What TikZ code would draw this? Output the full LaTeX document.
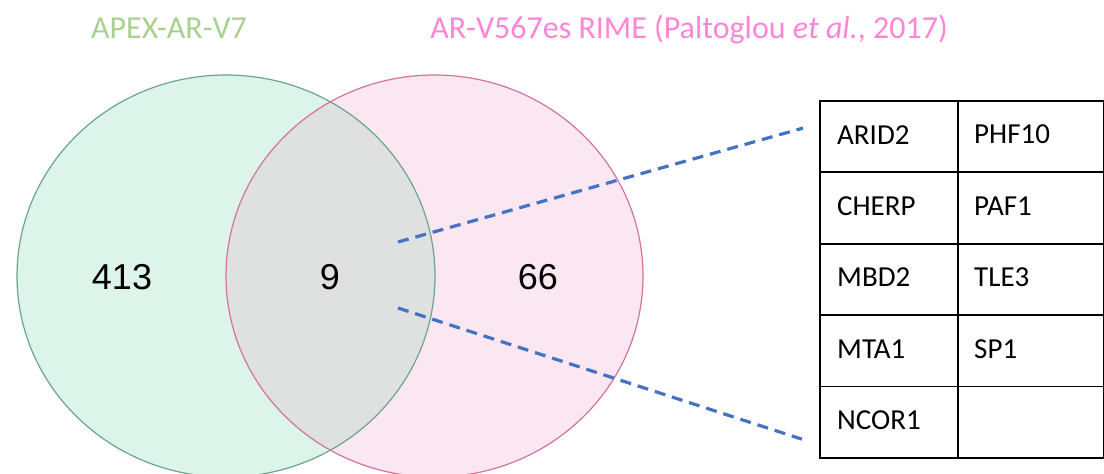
\documentclass[tikz,border=0pt]{standalone}
\usepackage{fontspec}
\setmainfont{Carlito}
\newfontfamily\arialfont{Liberation Sans}
\definecolor{gfill}{HTML}{DCF4EA}
\definecolor{gline}{HTML}{6BA58A}
\definecolor{pfill}{HTML}{FBE7F1}
\definecolor{pline}{HTML}{D4739B}
\definecolor{ovl}{HTML}{DFE0E0}
\definecolor{gtitle}{HTML}{A9D18E}
\definecolor{ptitle}{HTML}{FF85D5}
\definecolor{dashblue}{HTML}{4472C4}
\tikzset{
  numlabel/.style={font=\arialfont\fontsize{36}{40}\selectfont, text=black, inner sep=0pt},
  titlelabel/.style={font=\fontsize{32}{36}\selectfont, inner sep=0pt, anchor=base},
  cellbox/.style={draw=black, line width=1.8pt, rectangle, anchor=north west, minimum height=71.4pt,
     inner sep=0pt},
  cellA/.style={cellbox, minimum width=138pt},
  cellB/.style={cellbox, minimum width=146pt},
  celltext/.style={anchor=west, inner sep=0pt, font=\fontsize{29}{32}\selectfont},
  connector/.style={draw=dashblue, line width=3.2pt, dash pattern=on 11pt off 7pt},
}
\begin{document}
\begin{tikzpicture}[x=1pt,y=-1pt]
\useasboundingbox (0,0) rectangle (1104,474);
% Venn fills
\fill[gfill] (226,276) ellipse [x radius=209pt, y radius=201pt];
\fill[pfill] (434.5,276) ellipse [x radius=208.5pt, y radius=201pt];
\begin{scope}
  \clip (226,276) ellipse [x radius=209pt, y radius=201pt];
  \fill[ovl] (434.5,276) ellipse [x radius=208.5pt, y radius=201pt];
\end{scope}
\draw[gline, line width=1.2pt] (226,276) ellipse [x radius=209pt, y radius=201pt];
\draw[pline, line width=1.2pt] (434.5,276) ellipse [x radius=208.5pt, y radius=201pt];
% titles
\node[titlelabel, text=gtitle] (tA) at (169,38.3) {APEX-AR-V7};
\node[titlelabel, text=ptitle] (tB) at (689,38.3) {AR-V567es RIME (Paltoglou \textit{et al.}, 2017)};
% counts
\node[numlabel] (n1) at (122,277) {413};
\node[numlabel] (n2) at (330,277) {9};
\node[numlabel] (n3) at (538,277) {66};
% table
\foreach \r/\a/\b in {0/ARID2/PHF10,1/CHERP/PAF1,2/MBD2/TLE3,3/MTA1/SP1,4/NCOR1/{}}{
  \node[cellA] (a\r) at (819,{100+71.4*\r}) {};
  \node[cellB] (b\r) at (957,{100+71.4*\r}) {};
  \node[celltext] (ta\r) at ([xshift=18pt,yshift=2pt]a\r.west) {\a};
  \node[celltext] (tb\r) at ([xshift=17pt,yshift=2pt]b\r.west) {\b};
}
% connectors
\coordinate (s1) at (398,242);
\coordinate (s2) at (398,308);
\coordinate (e1) at ([xshift=-16pt,yshift=8.5pt]a0.west);
\coordinate (e2) at ([xshift=-17pt,yshift=-17pt]a4.west);
\draw[connector] (s1) -- (e1);
\draw[connector] (s2) -- (e2);
\end{tikzpicture}
\end{document}
